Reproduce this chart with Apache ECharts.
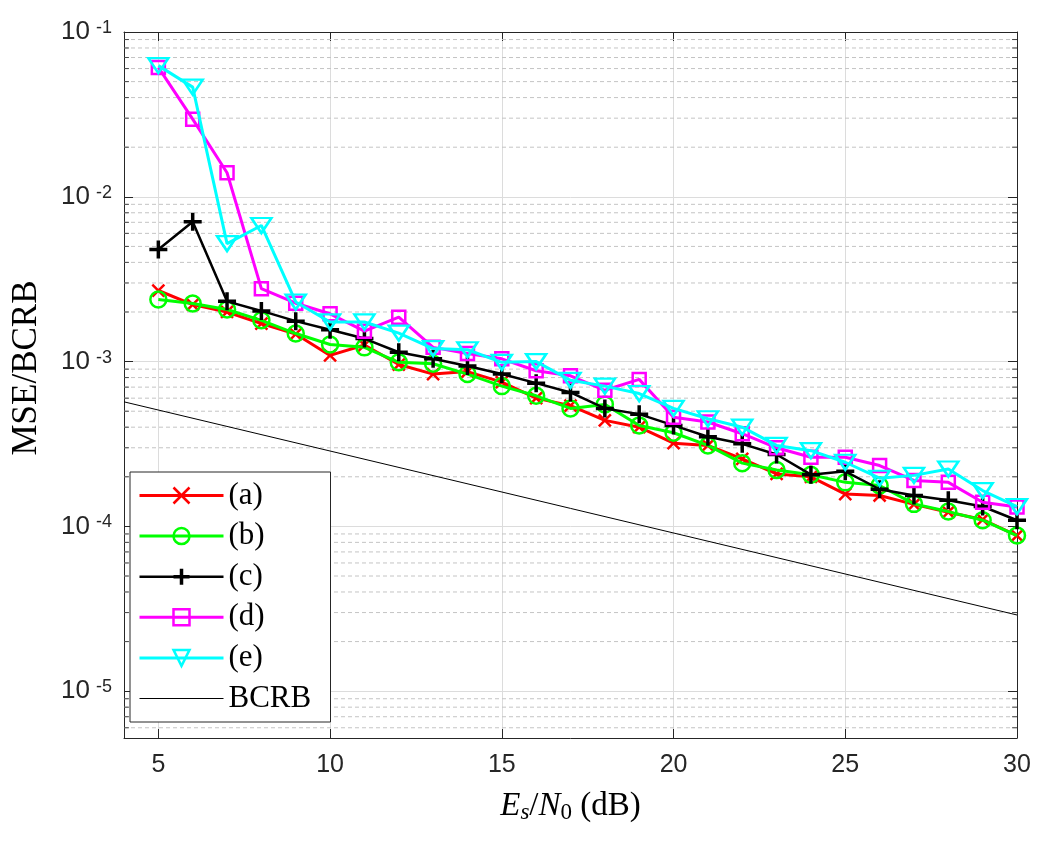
<!DOCTYPE html>
<html>
<head>
<meta charset="utf-8">
<script src="https://cdn.jsdelivr.net/npm/echarts@6/dist/echarts.min.js"></script>
<style>
html,body{margin:0;padding:0;background:#fff;}
#chart{width:1057px;height:841px;}
</style>
</head>
<body>
<div id="chart"></div>
<script>
// ---- data ----
const snrDb = [5,6,7,8,9,10,11,12,13,14,15,16,17,18,19,20,21,22,23,24,25,26,27,28,29,30];
const seriesA = [0.0027,0.00222,0.0020,0.0017,0.00147,0.00109,0.00126,0.00096,0.00084,0.00087,0.00075,0.00060,0.00054,0.00044,0.00040,0.00032,0.00031,0.000257,0.000208,0.000200,0.000157,0.000154,0.000136,0.000122,0.000110,0.000088];
const seriesB = [0.00238,0.00225,0.00207,0.00178,0.00148,0.00127,0.00122,0.00099,0.00097,0.00084,0.00071,0.00062,0.00052,0.00055,0.00041,0.00037,0.00031,0.000242,0.00022,0.000206,0.000185,0.000177,0.000137,0.000123,0.000109,0.000088];
const seriesC = [0.00479,0.00705,0.00232,0.00203,0.00176,0.00156,0.00138,0.00114,0.00104,0.00094,0.00084,0.00074,0.00065,0.00052,0.00048,0.00041,0.00035,0.000317,0.000273,0.000206,0.000216,0.000168,0.000154,0.000144,0.000132,0.000109];
const seriesD = [0.061,0.0296,0.0140,0.00277,0.00226,0.00195,0.00153,0.00186,0.00122,0.00112,0.00104,0.00088,0.00082,0.00067,0.00078,0.00046,0.00043,0.000365,0.00030,0.000263,0.000263,0.000234,0.00019,0.000185,0.00014,0.000131];
const seriesE = [0.0625,0.0463,0.0052,0.0067,0.0023,0.00174,0.00174,0.00149,0.00120,0.00118,0.00099,0.0010,0.00077,0.00071,0.00064,0.00052,0.00045,0.00040,0.00031,0.000288,0.000245,0.000196,0.000204,0.000223,0.000165,0.000132];
const bcrbX = [4, 30];
const bcrbY = [5.7e-4, 2.9e-5];
const legendNames = ['(a)','(b)','(c)','(d)','(e)','BCRB'];
const yTickExponents = [-5,-4,-3,-2,-1];
const xRange = [4, 30];
const yRange = [5.2e-6, 0.1];

// ---- styling ----
const colors = ['#ff0000','#00ff00','#000000','#ff00ff','#00ffff'];
const symbols = [
  'path://M0,0L10,10M10,0L0,10',
  'path://M10,5A5,5,0,1,1,0,5A5,5,0,1,1,10,5Z',
  'path://M5,0L5,10M0,5L10,5',
  'path://M0,0L10,0L10,10L0,10Z',
  'path://M0,0L10,0L5,8Z'
];
const symbolSizes = [12, 16, 18, 13, [20,15]];
const borderWidths = [2.5, 2.5, 3.5, 2.5, 2.5];
const lineWidths = [3, 3, 2.5, 3, 3];
const axisColor = '#262626';
const serif = 'Liberation Serif';
const sans = 'Liberation Sans';

// minor tick / grid values (2..9 x 10^n) within range
const minorVals = [];
for (let n = -6; n <= -2; n++) {
  for (let k = 2; k <= 9; k++) {
    const v = k * Math.pow(10, n);
    if (v > yRange[0] && v < yRange[1]) minorVals.push(+v.toPrecision(3));
  }
}
const minorGridData = [];
minorVals.forEach(v => {
  minorGridData.push([xRange[0], v], [xRange[1], v], [xRange[1], null]);
});

const dataSets = [seriesA, seriesB, seriesC, seriesD, seriesE];
const series = [];

// minor dashed grid lines
series.push({
  name: '__minor', type: 'line', data: minorGridData, z: 1, silent: true,
  symbol: 'none', showSymbol: false, connectNulls: false,
  lineStyle: {color: '#c4c4c4', type: [4,3], width: 1},
  emphasis: {disabled: true}
});
// minor ticks left/right
series.push({
  name: '__ticksL', type: 'scatter', clip: false, silent: true, z: 3,
  symbol: 'rect', symbolSize: [5,1], symbolOffset: [2.5,0],
  itemStyle: {color: axisColor},
  data: minorVals.map(v => [xRange[0], v])
});
series.push({
  name: '__ticksR', type: 'scatter', clip: false, silent: true, z: 3,
  symbol: 'rect', symbolSize: [5,1], symbolOffset: [-2.5,0],
  itemStyle: {color: axisColor},
  data: minorVals.map(v => [xRange[1], v])
});

dataSets.forEach((arr, i) => {
  series.push({
    name: legendNames[i], type: 'line',
    data: snrDb.map((x, j) => [x, arr[j]]),
    symbol: symbols[i], symbolSize: symbolSizes[i], showSymbol: true,
    itemStyle: {color: 'rgba(0,0,0,0)', borderColor: colors[i], borderWidth: borderWidths[i]},
    lineStyle: {color: colors[i], width: lineWidths[i]},
    emphasis: {disabled: true}, z: 4 + i
  });
});
series.push({
  name: 'BCRB', type: 'line',
  data: bcrbX.map((x, j) => [x, bcrbY[j]]),
  symbol: 'none', showSymbol: false,
  itemStyle: {color: '#000'},
  lineStyle: {color: '#000', width: 1},
  emphasis: {disabled: true}, z: 3
});

const legendData = legendNames.map((n, i) => {
  if (i < 5) {
    return {name: n,
      itemStyle: {color: 'rgba(0,0,0,0)', borderColor: colors[i], borderWidth: borderWidths[i]},
      lineStyle: {color: colors[i], width: lineWidths[i]}};
  }
  return {name: n, icon: 'path://M0,0L84,0L84,1L0,1Z', itemStyle: {color: '#000', borderWidth: 0}};
});

const chart = echarts.init(document.getElementById('chart'), null, {renderer: 'canvas'});
chart.setOption({
  animation: false,
  backgroundColor: '#ffffff',
  grid: {left: 124, top: 32, width: 893, height: 706, containLabel: false},
  legend: {
    data: legendData, orient: 'vertical', left: 130, top: 472,
    padding: [8, 10, 8, 8], itemWidth: 84, itemHeight: 20, itemGap: 9.6,
    backgroundColor: '#ffffff', borderColor: axisColor, borderWidth: 1, borderRadius: 0,
    selectedMode: false,
    textStyle: {fontFamily: serif, fontSize: 31, lineHeight: 31, color: '#000', width: 92}
  },
  xAxis: [{
    type: 'value', min: xRange[0], max: xRange[1], position: 'bottom',
    axisLine: {show: true, onZero: false, lineStyle: {color: axisColor, width: 1}},
    axisTick: {show: true, inside: true, length: 9, lineStyle: {color: axisColor}},
    axisLabel: {show: true, showMinLabel: false, margin: 15, color: axisColor, fontFamily: sans, fontSize: 25},
    splitLine: {show: true, lineStyle: {color: '#dcdcdc', width: 1}},
    name: '{i|E}{si|s}{r|/}{i|N}{sr|0}{r| (dB)}',
    nameLocation: 'middle', nameGap: 50,
    nameTextStyle: {
      rich: {
        i: {fontFamily: serif, fontStyle: 'italic', fontSize: 33, lineHeight: 36, color: '#000'},
        r: {fontFamily: serif, fontSize: 33, lineHeight: 36, color: '#000'},
        si: {fontFamily: serif, fontStyle: 'italic', fontSize: 23, lineHeight: 20, verticalAlign: 'bottom', color: '#000'},
        sr: {fontFamily: serif, fontSize: 23, lineHeight: 20, verticalAlign: 'bottom', color: '#000'}
      }
    }
  }, {
    type: 'value', min: xRange[0], max: xRange[1], position: 'top',
    axisLine: {show: true, onZero: false, lineStyle: {color: axisColor, width: 1}},
    axisTick: {show: true, inside: true, length: 9, lineStyle: {color: axisColor}},
    axisLabel: {show: false}, splitLine: {show: false}
  }],
  yAxis: [{
    type: 'log', logBase: 10, min: yRange[0], max: yRange[1], position: 'left',
    axisLine: {show: true, onZero: false, lineStyle: {color: axisColor, width: 1}},
    axisTick: {show: true, inside: true, length: 9, lineStyle: {color: axisColor}},
    splitLine: {show: true, lineStyle: {color: '#dcdcdc', width: 1}},
    axisLabel: {
      show: true, margin: 12, color: axisColor,
      formatter: function (v) {
        const l = Math.log10(v);
        const e = Math.round(l);
        if (Math.abs(l - e) > 0.01 || yTickExponents.indexOf(e) < 0) return '';
        return '{b|10}{e|' + e + '}';
      },
      rich: {
        b: {fontFamily: sans, fontSize: 26, lineHeight: 26, color: axisColor},
        e: {fontFamily: sans, fontSize: 18, lineHeight: 8, verticalAlign: 'top', color: axisColor, padding: [0,0,0,6]}
      }
    },
    name: 'MSE/BCRB', nameLocation: 'middle', nameGap: 80, nameRotate: 90,
    nameTextStyle: {fontFamily: serif, fontSize: 35, color: '#000', padding: [0,0,0,34]}
  }, {
    type: 'log', logBase: 10, min: yRange[0], max: yRange[1], position: 'right',
    axisLine: {show: true, onZero: false, lineStyle: {color: axisColor, width: 1}},
    axisTick: {show: true, inside: true, length: 9, lineStyle: {color: axisColor}},
    axisLabel: {show: false}, splitLine: {show: false}
  }],
  series: series
});
</script>
</body>
</html>
